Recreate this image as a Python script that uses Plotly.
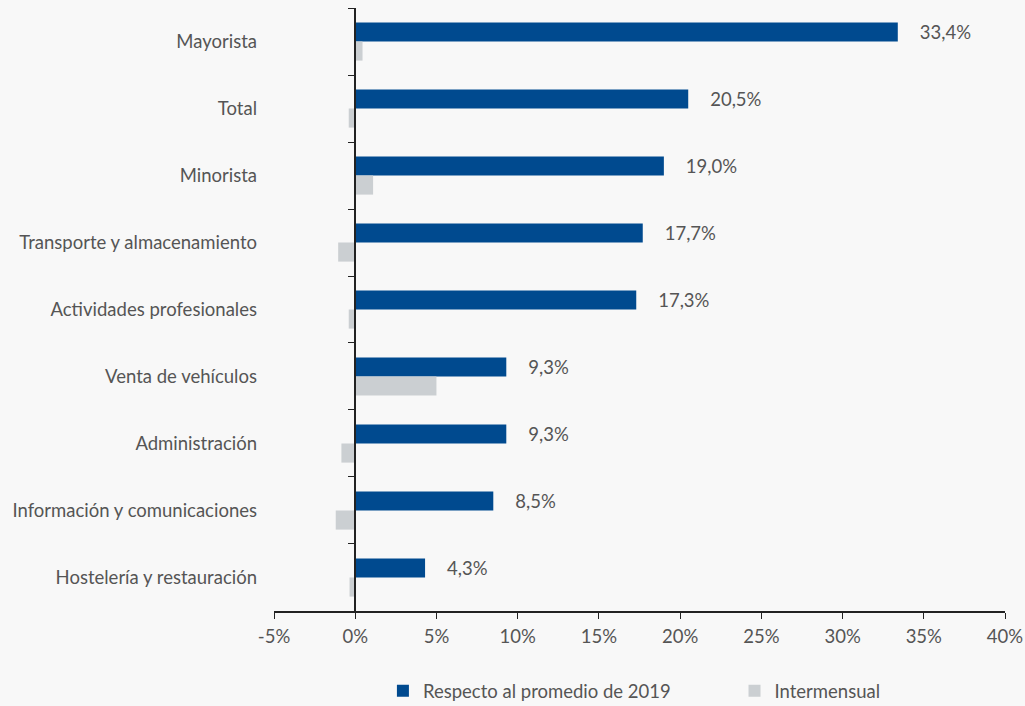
import plotly.graph_objects as go

categories = ["Mayorista", "Total", "Minorista", "Transporte y almacenamiento",
              "Actividades profesionales", "Venta de vehículos", "Administración",
              "Información y comunicaciones", "Hostelería y restauración"]
respecto_2019 = [33.4, 20.5, 19.0, 17.7, 17.3, 9.3, 9.3, 8.5, 4.3]
intermensual = [0.45, -0.4, 1.1, -1.05, -0.4, 5.0, -0.85, -1.2, -0.35]
bar_labels = ["33,4%", "20,5%", "19,0%", "17,7%", "17,3%", "9,3%", "9,3%", "8,5%", "4,3%"]
x_tickvals = [-5, 0, 5, 10, 15, 20, 25, 30, 35, 40]
x_ticktext = ["-5%", "0%", "5%", "10%", "15%", "20%", "25%", "30%", "35%", "40%"]

FONT = "Lato"
FS = 18.5
TXT = "#555555"
BG = "#F8F8F8"

fig = go.Figure()
fig.add_trace(go.Bar(
    y=categories, x=respecto_2019, orientation="h", name="Respecto al promedio de 2019",
    marker=dict(color="#004A8F", line=dict(width=0)),
    text=["    " + t for t in bar_labels], textposition="outside", cliponaxis=False,
    constraintext="none",
    textfont=dict(family=FONT, size=FS, color=TXT),
    legend="legend",
))
fig.add_trace(go.Bar(
    y=categories, x=intermensual, orientation="h", name="Intermensual",
    marker=dict(color="#CBCFD2", line=dict(width=0)),
    legend="legend2",
))
# helper trace to carry the axis drawn at x = 0
fig.add_trace(go.Scatter(
    y=categories, x=[0] * len(categories), yaxis="y2", mode="markers",
    marker=dict(opacity=0), showlegend=False, hoverinfo="skip",
))

leg_common = dict(orientation="h", yanchor="middle", y=-0.133, xanchor="left",
                  font=dict(family=FONT, size=FS, color=TXT), itemwidth=30,
                  bgcolor="rgba(0,0,0,0)", tracegroupgap=0)

fig.update_layout(
    width=1025, height=706,
    margin=dict(l=274, r=20, t=8, b=95, autoexpand=False),
    paper_bgcolor=BG, plot_bgcolor=BG,
    barmode="group", bargap=0.43, bargroupgap=0,
    font=dict(family=FONT, size=FS, color=TXT),
    showlegend=True,
    legend=dict(x=0.149, **leg_common),
    legend2=dict(x=0.63, **leg_common),
    xaxis=dict(range=[-5, 40], tickvals=x_tickvals, ticktext=x_ticktext,
               showgrid=False, zeroline=False, showline=True, linecolor="#222222",
               linewidth=2, ticks="outside", ticklen=6, tickcolor="#222222", tickwidth=1,
               ticklabelstandoff=2, automargin=False,
               tickfont=dict(family=FONT, size=FS, color=TXT)),
    yaxis=dict(type="category", categoryorder="array", categoryarray=categories,
               autorange="reversed", showgrid=False, zeroline=False, showline=False,
               ticks="", ticklabelstandoff=16, automargin=False,
               tickfont=dict(family=FONT, size=FS, color=TXT)),
    yaxis2=dict(type="category", categoryorder="array", categoryarray=categories,
                autorange="reversed", overlaying="y", anchor="free", position=1 / 9,
                side="left", showgrid=False, zeroline=False, showline=True,
                linecolor="#222222", linewidth=2, ticks="outside", tickson="boundaries",
                ticklen=6, tickcolor="#222222", showticklabels=False, automargin=False),
)

fig.write_html(
    "out.html",
    config={"displayModeBar": False},
    post_script="document.body.style.margin='0';document.body.style.background='%s';" % BG,
)
